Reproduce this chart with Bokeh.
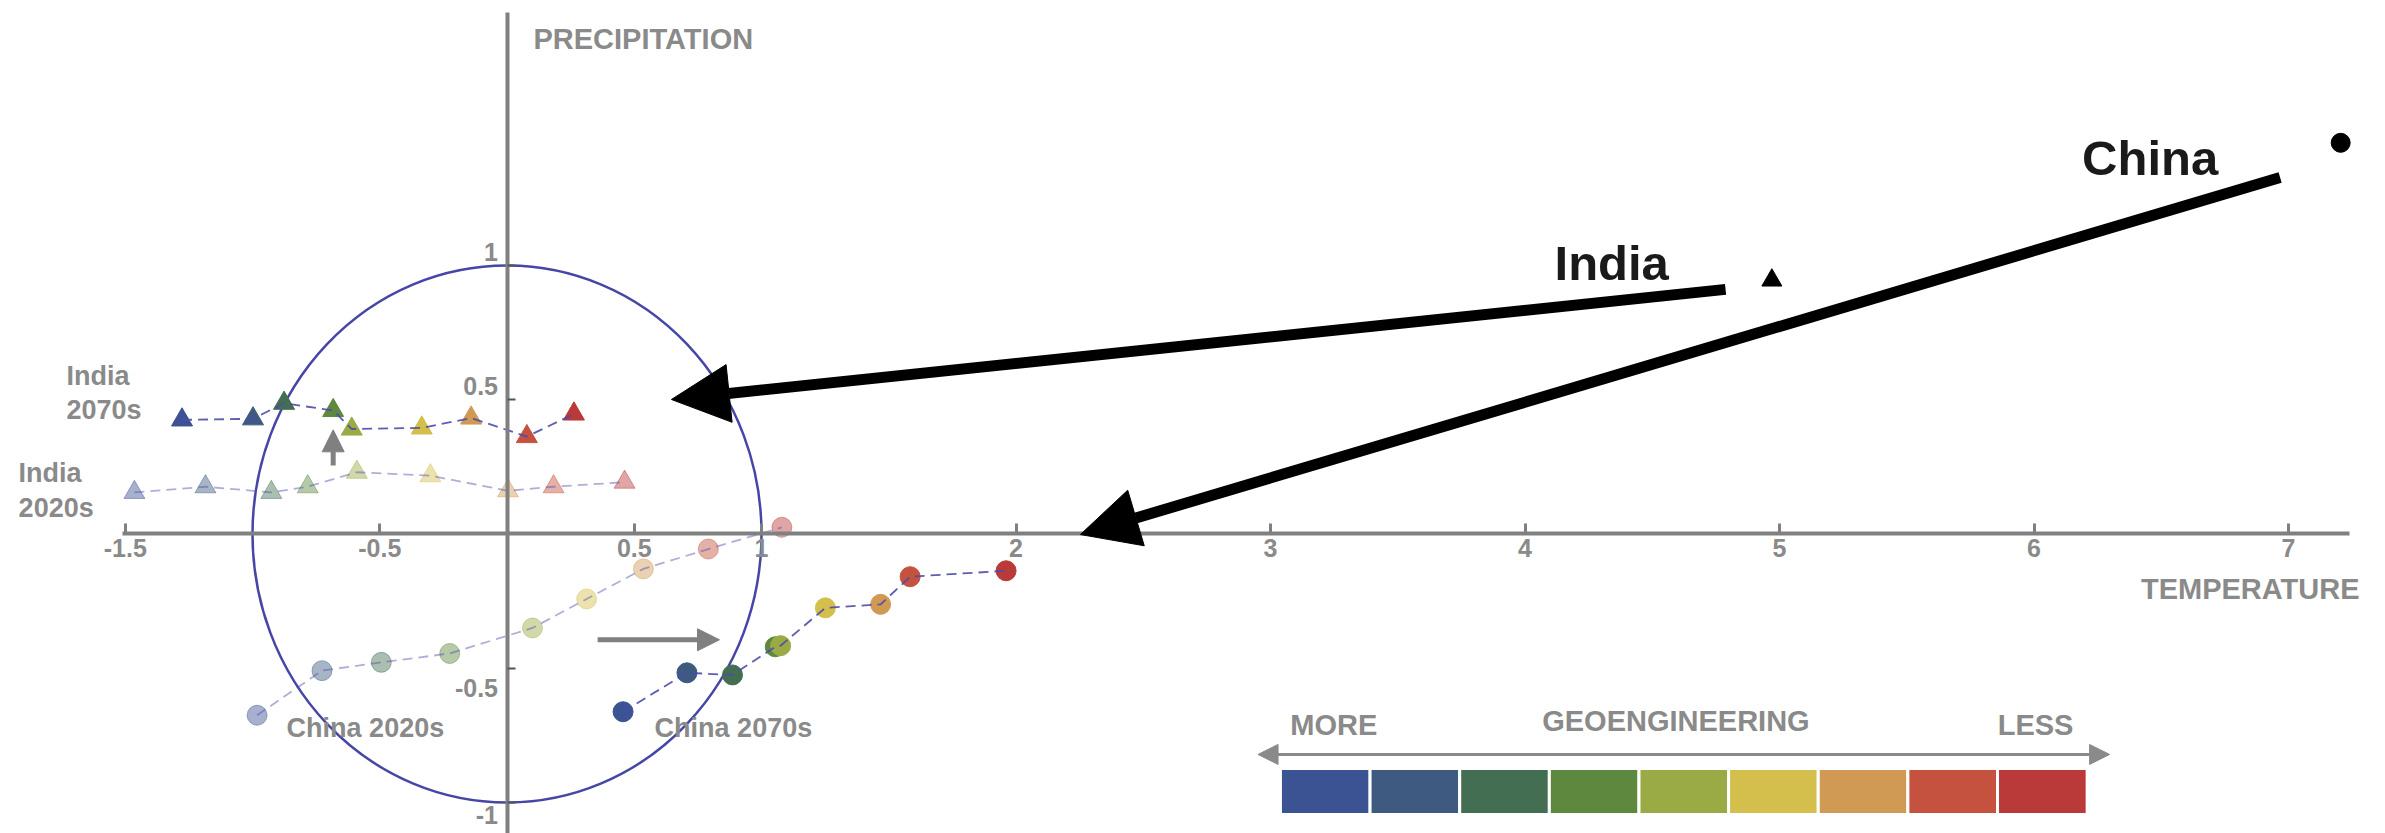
from bokeh.plotting import figure
from bokeh.models import Range1d, FixedTicker, Arrow, NormalHead
from bokeh.core.properties import value
from bokeh.embed import file_html
from bokeh.resources import INLINE

# ---------------- data ----------------
LEVEL_COLORS = ["#3c5393", "#3f5a80", "#436e52", "#5e883e", "#9aaa45",
                "#d4bf4d", "#d09a55", "#c4523e", "#b93a38"]

india_2020s_temp = [-1.464, -1.185, -0.926, -0.783, -0.590, -0.301, 0.004, 0.183, 0.462]
india_2020s_prec = [0.155, 0.176, 0.155, 0.176, 0.230, 0.217, 0.161, 0.176, 0.193]

india_2070s_temp = [-1.277, -0.998, -0.876, -0.683, -0.610, -0.335, -0.141, 0.078, 0.263]
india_2070s_prec = [0.425, 0.429, 0.487, 0.460, 0.391, 0.395, 0.432, 0.363, 0.447]

china_2020s_temp = [-0.982, -0.727, -0.494, -0.225, 0.100, 0.313, 0.536, 0.791, 1.080]
china_2020s_prec = [-0.675, -0.509, -0.478, -0.445, -0.350, -0.242, -0.130, -0.056, 0.025]

china_2070s_temp = [0.456, 0.707, 0.886, 1.054, 1.075, 1.251, 1.468, 1.584, 1.961]
china_2070s_prec = [-0.662, -0.517, -0.525, -0.420, -0.416, -0.275, -0.262, -0.159, -0.137]

# no-geoengineering reference points
india_nogeo = (4.97, 0.945)
china_nogeo = (7.205, 1.457)

circle_center = (0.0, 0.0)
circle_radius = 1.0

x_ticks = [-1.5, -0.5, 0.5, 1, 2, 3, 4, 5, 6, 7]
x_tick_labels = ["-1.5", "-0.5", "0.5", "1", "2", "3", "4", "5", "6", "7"]
y_ticks_pos = [0.5, 1]
y_ticks_pos_labels = ["0.5", "1"]
y_ticks_neg = [-0.5, -1]
y_ticks_neg_labels = ["-0.5", "-1"]

legend_labels = ["MORE", "GEOENGINEERING", "LESS"]

# ---------------- styling ----------------
FONT = "Liberation Sans"
GREY_TXT = "#8a8a8a"
AXIS_COL = "#808080"
LINE_COL = "#4b4baa"
CIRCLE_COL = "#4646a6"

W, H = 2385, 833
p = figure(width=W, height=H,
           x_range=Range1d(-1.9902, 7.3811), y_range=Range1d(-1.1155, 1.9870),
           output_backend="svg", toolbar_location=None, min_border=0)
p.outline_line_color = None
p.grid.visible = False
p.background_fill_color = "white"
p.border_fill_color = "white"

# x axis crossing at y=0
xa = p.xaxis[0]
xa.fixed_location = 0
xa.ticker = FixedTicker(ticks=x_ticks)
xa.major_label_overrides = {t: l for t, l in zip(x_ticks, x_tick_labels)}
xa.bounds = (-1.51, 7.24)
xa.axis_line_color = AXIS_COL
xa.axis_line_width = 4
xa.major_tick_in = 10
xa.major_tick_out = 0
xa.major_tick_line_color = AXIS_COL
xa.major_tick_line_width = 3
xa.minor_tick_line_color = None
xa.major_label_text_font = FONT
xa.major_label_text_font_size = "25px"
xa.major_label_text_font_style = "bold"
xa.major_label_text_color = GREY_TXT
xa.major_label_standoff = 5

# y axis crossing at x=0
ya = p.yaxis[0]
ya.fixed_location = 0
ya.ticker = FixedTicker(ticks=y_ticks_pos + y_ticks_neg)
ya.major_label_overrides = {t: "" for t in y_ticks_pos + y_ticks_neg}
ya.bounds = (-1.12, 1.942)
ya.axis_line_color = AXIS_COL
ya.axis_line_width = 4
ya.major_tick_in = 8
ya.major_tick_out = 0
ya.major_tick_line_color = "#555555"
ya.major_tick_line_width = 2
ya.minor_tick_line_color = None
ya.major_label_text_font_size = "1px"

# y tick labels offset away from the x axis
ylab_kw = dict(x_offset=-9, text_align="right", text_baseline="middle",
               text_font=value(FONT), text_font_size="25px", text_font_style="bold",
               text_color=GREY_TXT)
p.text(x=[0] * len(y_ticks_pos), y=y_ticks_pos, text=y_ticks_pos_labels,
       y_offset=-14, **ylab_kw)
p.text(x=[0], y=y_ticks_neg[:1], text=y_ticks_neg_labels[:1], y_offset=20, **ylab_kw)
p.text(x=[0], y=y_ticks_neg[1:], text=y_ticks_neg_labels[1:], y_offset=13, **ylab_kw)

# axis titles
p.text(x=[0.104], y=[1.842], text=["PRECIPITATION"], text_align="left",
       text_baseline="middle", text_font=value(FONT), text_font_size="29px",
       text_font_style="bold", text_color=GREY_TXT)
p.text(x=[7.279], y=[-0.203], text=["TEMPERATURE"], text_align="right",
       text_baseline="middle", text_font=value(FONT), text_font_size="29px",
       text_font_style="bold", text_color=GREY_TXT)

# unit circle
p.ellipse(x=[circle_center[0]], y=[circle_center[1]],
          width=[2 * circle_radius], height=[2 * circle_radius],
          fill_color=None, line_color=CIRCLE_COL, line_width=2.5)

# series: markers first, dashed path on top
def series(tx, py, marker, alpha, line_alpha):
    p.scatter(x=tx, y=py, marker=marker, size=21 if marker == "triangle" else 20,
              fill_color=LEVEL_COLORS, line_color=LEVEL_COLORS,
              fill_alpha=alpha, line_alpha=alpha)
    p.line(x=tx, y=py, line_color=LINE_COL, line_width=1.8,
           line_dash="10 6", line_alpha=line_alpha)

series(india_2020s_temp, india_2020s_prec, "triangle", 0.45, 0.45)
series(china_2020s_temp, china_2020s_prec, "circle", 0.45, 0.45)
series(india_2070s_temp, india_2070s_prec, "triangle", 1.0, 0.9)
series(china_2070s_temp, china_2070s_prec, "circle", 1.0, 0.9)

# series labels
lab_kw = dict(text_font=value(FONT), text_font_size="27px", text_font_style="bold",
              text_color=GREY_TXT, text_align="left", text_baseline="middle")
p.text(x=[-1.731, -1.731], y=[0.590, 0.460], text=["India", "2070s"], **lab_kw)
p.text(x=[-1.919, -1.919], y=[0.227, 0.097], text=["India", "2020s"], **lab_kw)
p.text(x=[-0.866], y=[-0.721], text=["China 2020s"], **lab_kw)
p.text(x=[0.580], y=[-0.721], text=["China 2070s"], **lab_kw)

# shift arrows (grey)
p.add_layout(Arrow(x_start=-0.683, y_start=0.255, x_end=-0.683, y_end=0.388,
                   line_color=AXIS_COL, line_width=5,
                   end=NormalHead(size=22, fill_color=AXIS_COL, line_color=AXIS_COL)))
p.add_layout(Arrow(x_start=0.356, y_start=-0.394, x_end=0.835, y_end=-0.394,
                   line_color=AXIS_COL, line_width=5,
                   end=NormalHead(size=22, fill_color=AXIS_COL, line_color=AXIS_COL)))

# no-geoengineering points and big arrows
p.scatter(x=[india_nogeo[0]], y=[india_nogeo[1]], marker="triangle", size=20,
          fill_color="black", line_color="black")
p.scatter(x=[china_nogeo[0]], y=[china_nogeo[1]], marker="circle", size=19,
          fill_color="black", line_color="black")
p.add_layout(Arrow(x_start=4.788, y_start=0.911, x_end=0.646, y_end=0.501,
                   line_color="black", line_width=11,
                   end=NormalHead(size=58, fill_color="black", line_color="black")))
p.add_layout(Arrow(x_start=6.967, y_start=1.328, x_end=2.253, y_end=-0.002,
                   line_color="black", line_width=11,
                   end=NormalHead(size=58, fill_color="black", line_color="black")))
big_kw = dict(text_font=value(FONT), text_font_size="49px", text_font_style="bold",
              text_color="#1a1a1a", text_align="left", text_baseline="middle")
p.text(x=[4.116], y=[1.011], text=["India"], **big_kw)
p.text(x=[6.189], y=[1.402], text=["China"], **big_kw)

# geoengineering colour key
key_left, key_pitch, key_top, key_bottom = 3.039, 0.3522, -0.873, -1.045
p.quad(left=[key_left + i * key_pitch for i in range(len(LEVEL_COLORS))],
       right=[key_left + (i + 1) * key_pitch for i in range(len(LEVEL_COLORS))],
       top=key_top, bottom=key_bottom,
       fill_color=LEVEL_COLORS, line_color="white", line_width=3)
p.add_layout(Arrow(x_start=2.951, y_start=-0.821, x_end=6.297, y_end=-0.821,
                   line_color=GREY_TXT, line_width=3,
                   start=NormalHead(size=20, fill_color=GREY_TXT, line_color=GREY_TXT),
                   end=NormalHead(size=20, fill_color=GREY_TXT, line_color=GREY_TXT)))
key_kw = dict(text_font=value(FONT), text_font_size="29px", text_font_style="bold",
              text_color=GREY_TXT, text_baseline="middle")
p.text(x=[3.078], y=[-0.713], text=[legend_labels[0]], text_align="left", **key_kw)
p.text(x=[4.593], y=[-0.695], text=[legend_labels[1]], text_align="center", **key_kw)
p.text(x=[6.155], y=[-0.713], text=[legend_labels[2]], text_align="right", **key_kw)

open("out.html", "w").write(file_html(p, INLINE))
